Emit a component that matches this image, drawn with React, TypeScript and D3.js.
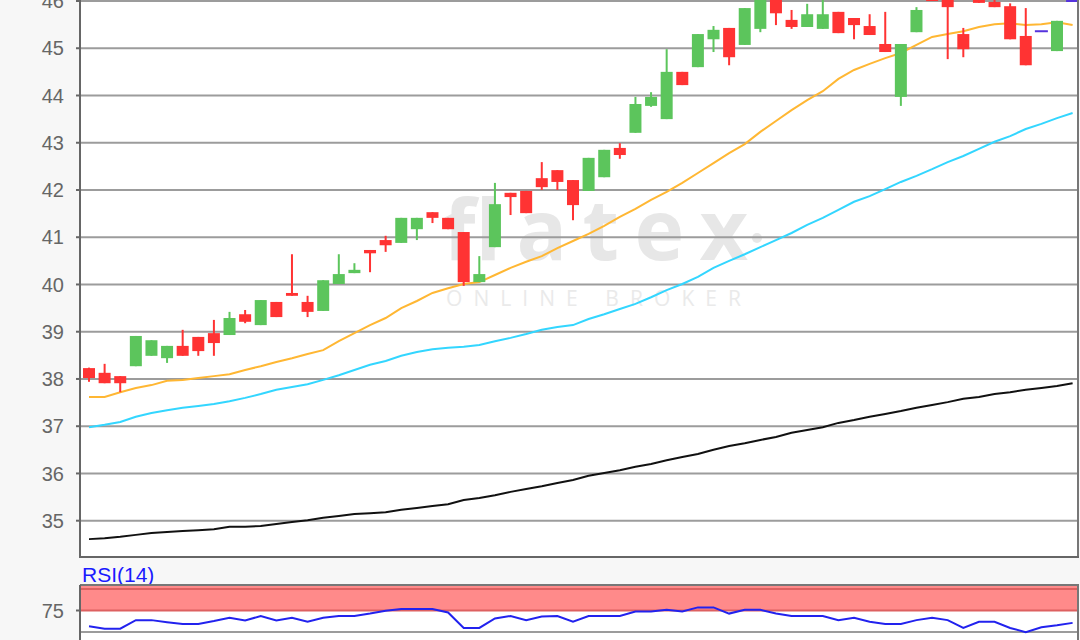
import React from 'react';
import * as d3 from 'd3';

// ---- data ----
const priceTicks = [35, 36, 37, 38, 39, 40, 41, 42, 43, 44, 45, 46];

const candleOpen = [38.23,38.13,38.06,38.27,38.49,38.44,38.70,38.89,38.97,38.93,
  39.37,39.14,39.63,39.82,39.63,39.44,40.01,40.24,40.73,40.94,
  40.88,41.17,41.53,41.41,41.11,40.05,40.79,41.94,41.98,42.25,
  42.42,42.21,41.98,42.27,42.89,43.21,43.78,43.50,44.50,44.60,
  45.19,45.43,45.07,45.41,46.20,45.60,45.45,45.41,45.77,45.64,
  45.47,45.09,43.97,45.34,46.35,46.20,45.30,46.20,45.98,45.89,
  45.26,45.36,44.94,46.00];
const candleHigh = [38.24,38.32,38.06,38.91,38.82,38.70,39.04,38.89,39.25,39.42,
  39.46,39.67,39.63,40.64,39.76,40.09,40.64,40.45,40.73,41.03,
  41.41,41.41,41.53,41.41,41.11,40.60,42.15,41.94,41.98,42.59,
  42.42,42.21,42.68,42.85,42.99,43.97,44.07,44.98,44.50,45.30,
  45.47,45.43,45.85,46.15,46.25,45.81,45.94,46.05,45.77,45.64,
  45.72,45.77,45.09,45.87,46.40,46.30,45.43,46.25,46.05,45.95,
  45.85,45.36,45.58,46.00];
const candleLow = [37.94,37.91,37.72,38.27,38.49,38.34,38.49,38.49,38.49,38.93,
  39.18,39.14,39.31,39.76,39.31,39.44,40.01,40.24,40.26,40.69,
  40.88,40.94,41.30,41.17,39.97,40.05,40.79,41.47,41.51,42.00,
  42.00,41.36,41.98,42.27,42.66,43.21,43.76,43.50,44.22,44.60,
  44.92,44.64,45.07,45.34,45.49,45.41,45.45,45.41,45.32,45.19,
  45.28,44.92,43.78,45.34,46.00,44.77,44.81,45.96,45.87,45.19,
  44.64,45.36,44.94,46.00];
const candleClose = [38.02,37.91,37.91,38.91,38.82,38.70,38.49,38.59,38.76,39.29,
  39.21,39.67,39.31,39.76,39.42,40.09,40.22,40.31,40.66,40.83,
  41.41,41.41,41.41,41.17,40.05,40.22,41.70,41.85,41.51,42.06,
  42.17,41.68,42.68,42.85,42.74,43.82,43.97,44.50,44.22,45.30,
  45.39,44.81,45.85,46.10,45.74,45.45,45.72,45.72,45.32,45.49,
  45.28,44.92,45.09,45.81,46.00,45.87,44.98,45.96,45.87,45.19,
  44.64,45.36,45.58,46.00];

const maOrange = [37.62,37.62,37.72,37.81,37.87,37.96,37.98,38.02,38.06,38.10,
  38.19,38.27,38.36,38.44,38.53,38.61,38.80,38.97,39.14,39.29,
  39.50,39.65,39.82,39.92,40.01,40.05,40.20,40.35,40.48,40.60,
  40.77,40.92,41.07,41.24,41.43,41.60,41.79,41.96,42.15,42.36,
  42.57,42.78,42.97,43.23,43.46,43.69,43.90,44.09,44.35,44.54,
  44.67,44.79,44.90,45.07,45.24,45.30,45.36,45.45,45.51,45.53,
  45.49,45.51,45.55,45.49];
const maCyan = [36.98,37.03,37.09,37.20,37.28,37.34,37.39,37.43,37.47,37.53,
  37.60,37.68,37.77,37.83,37.89,37.98,38.08,38.19,38.30,38.38,
  38.49,38.57,38.63,38.66,38.68,38.72,38.80,38.87,38.95,39.04,
  39.10,39.14,39.27,39.37,39.48,39.59,39.73,39.88,40.01,40.16,
  40.35,40.50,40.64,40.79,40.94,41.09,41.26,41.41,41.58,41.75,
  41.87,42.02,42.17,42.30,42.44,42.59,42.72,42.87,43.02,43.14,
  43.29,43.40,43.52,43.63];
const maBlack = [34.61,34.63,34.66,34.70,34.74,34.76,34.78,34.80,34.82,34.87,
  34.87,34.89,34.93,34.97,35.01,35.06,35.10,35.14,35.16,35.18,
  35.23,35.27,35.31,35.35,35.44,35.48,35.54,35.61,35.67,35.73,
  35.80,35.86,35.95,36.01,36.07,36.14,36.20,36.28,36.35,36.41,
  36.50,36.58,36.64,36.71,36.77,36.86,36.92,36.98,37.07,37.13,
  37.20,37.26,37.32,37.39,37.45,37.51,37.58,37.62,37.68,37.72,
  37.77,37.81,37.85,37.91];

const rsiValues = [56.6,53.8,53.8,63.8,63.8,61.4,59.4,59.4,62.7,66.6,
  63.4,68.6,63.4,66.6,61.9,66.6,68.6,68.6,71.4,74.7,
  76.6,76.6,76.6,72.7,54.7,54.7,65.8,68.6,63.8,68.0,
  68.6,61.9,68.6,68.6,68.6,73.8,73.8,75.8,73.8,78.6,
  78.6,71.4,75.8,75.8,71.4,68.6,68.6,68.6,63.8,66.6,
  61.9,59.4,59.4,63.8,66.6,63.8,54.7,61.9,61.9,54.7,
  49.8,55.5,57.8,60.6];
const rsiTickLabels = [75];
const rsiGridLines = [50];
const rsiZone = [75, 100];
const rsiTitle = 'RSI(14)';

const watermarkMain = 'flatex';
const watermarkSub = 'ONLINE BROKER';

// ---- layout ----
const W = 1080, H = 640;
const PL = 81, PR = 1078, PB = 557;
const RT = 585;

const GREEN = '#5cc55c';
const RED = '#ff3333';
const PURPLE = '#5533dd';
const FONT = "'Liberation Sans', Arial, sans-serif";

export default function App() {
  const x = d3.scaleLinear().domain([0, 63]).range([89, 1072.6]);
  const y = d3.scaleLinear().domain([35, 46]).range([520.7, 1]);
  const yr = d3.scaleLinear().domain([50, 100]).range([632, 589]);

  const line = (vals: number[]) =>
    d3.line<number>().x((_, i) => x(i)).y((v) => y(v))(vals) || '';
  const rsiLine = d3.line<number>().x((_, i) => x(i)).y((v) => yr(v))(rsiValues) || '';

  return (
    <svg width={W} height={H} style={{ position: 'absolute', left: 0, top: 0, display: 'block' }}>
      <defs>
        <clipPath id="mainClip">
          <rect x={PL} y={0} width={PR - PL} height={PB} />
        </clipPath>
        <clipPath id="rsiClip">
          <rect x={PL} y={RT} width={PR - PL} height={H - RT} />
        </clipPath>
      </defs>
      <rect x={0} y={0} width={W} height={H} fill="#f7f7f7" />
      {/* main panel */}
      <rect x={PL} y={0} width={PR - PL} height={PB} fill="#ffffff" />
      <g clipPath="url(#mainClip)">
        <text x={443} y={260} fontFamily="'Open Sans', sans-serif" fontWeight={700} fontSize={84}
          fill="#e7e7e7" textLength={305} lengthAdjust="spacing">{watermarkMain}</text>
        <circle cx={757} cy={238} r={5} fill="#e7e7e7" />
        <text x={446} y={306} fontFamily="'Open Sans', sans-serif" fontSize={21}
          fill="#eaeaea" textLength={295} lengthAdjust="spacing">{watermarkSub}</text>
        {priceTicks.map((t) => (
          <line key={t} x1={PL} x2={PR} y1={y(t)} y2={y(t)} stroke="#9c9c9c" strokeWidth={2} />
        ))}
        <path d={line(maBlack)} fill="none" stroke="#111111" strokeWidth={2} />
        <path d={line(maCyan)} fill="none" stroke="#33d6ff" strokeWidth={2} />
        <path d={line(maOrange)} fill="none" stroke="#ffb733" strokeWidth={2} />
        {candleOpen.map((o, i) => {
          const c = candleClose[i], h = candleHigh[i], l = candleLow[i];
          const cx = x(i);
          const flat = Math.abs(c - o) < 0.005;
          const color = flat ? PURPLE : c > o ? GREEN : RED;
          const top = y(Math.max(o, c));
          const bot = y(Math.min(o, c));
          return (
            <g key={i}>
              {h > l && <rect x={cx - 1} y={y(h)} width={2} height={y(l) - y(h)} fill={color} />}
              {flat ? (
                <rect x={cx - 6.5} y={top - 1} width={13} height={2} fill={color} />
              ) : (
                <rect x={cx - 6} y={top} width={12} height={Math.max(bot - top, 1.5)} fill={color} />
              )}
            </g>
          );
        })}
      </g>
      {/* main frame */}
      <line x1={PR} x2={PR} y1={0} y2={PB + 1} stroke="#777" strokeWidth={2} />
      <line x1={PL - 1} x2={PR + 1} y1={PB} y2={PB} stroke="#666" strokeWidth={2} />
      <line x1={PL - 1} x2={PL - 1} y1={0} y2={PB + 1} stroke="#666" strokeWidth={2} />
      {priceTicks.map((t) => (
        <g key={t}>
          <line x1={76} x2={PL} y1={y(t)} y2={y(t)} stroke="#666" strokeWidth={2} />
          <text x={64} y={y(t)} dy="0.36em" textAnchor="end" fontFamily={FONT} fontSize={20} fill="#666">{t}</text>
        </g>
      ))}

      {/* RSI panel */}
      <text x={82} y={582} fontFamily={FONT} fontSize={21} fill="#1a1aff">{rsiTitle}</text>
      <rect x={PL} y={RT} width={PR - PL} height={H - RT} fill="#ffffff" />
      <g clipPath="url(#rsiClip)">
        <rect x={PL} y={RT} width={PR - PL} height={yr(rsiZone[0]) - RT} fill="#ff8a8a" />
        {rsiZone.map((v) => (
          <line key={v} x1={PL} x2={PR} y1={yr(v)} y2={yr(v)} stroke="#dd6060" strokeWidth={2} />
        ))}
        {rsiGridLines.map((v) => (
          <line key={v} x1={PL} x2={PR} y1={yr(v)} y2={yr(v)} stroke="#9c9c9c" strokeWidth={2} />
        ))}
        <path d={rsiLine} fill="none" stroke="#2222ee" strokeWidth={2} />
      </g>
      <line x1={PL - 1} x2={PR + 1} y1={RT} y2={RT} stroke="#777" strokeWidth={2} />
      <line x1={PR} x2={PR} y1={RT} y2={H} stroke="#777" strokeWidth={2} />
      <line x1={PL - 1} x2={PL - 1} y1={RT} y2={H} stroke="#666" strokeWidth={2} />
      {rsiTickLabels.map((t) => (
        <g key={t}>
          <line x1={76} x2={PL} y1={yr(t)} y2={yr(t)} stroke="#666" strokeWidth={2} />
          <text x={64} y={yr(t)} dy="0.36em" textAnchor="end" fontFamily={FONT} fontSize={20} fill="#666">{t}</text>
        </g>
      ))}
    </svg>
  );
}
